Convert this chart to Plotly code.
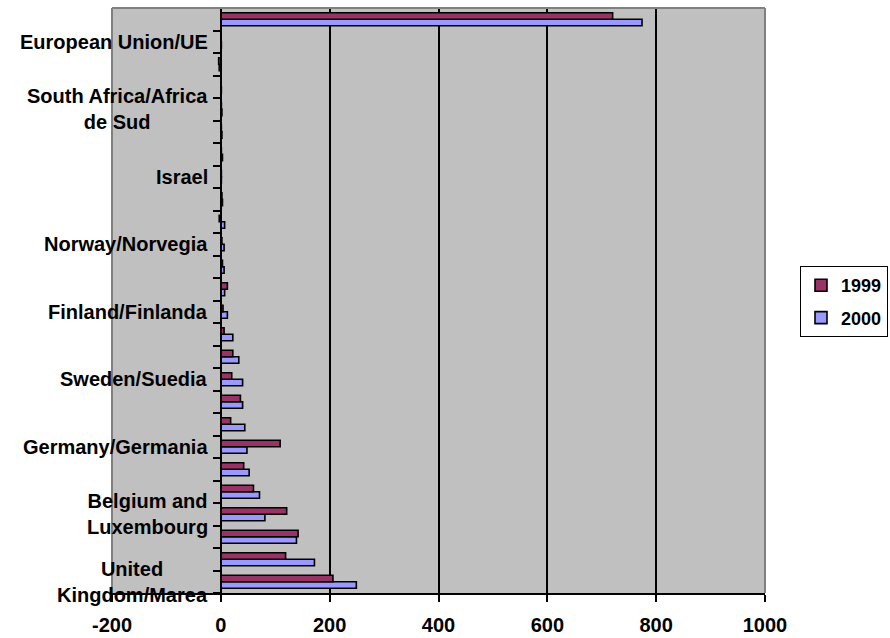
import plotly.graph_objects as go

# Categories from bottom (position 1) to top (position 26); only every third one is labelled
category_labels = [
    "United<br>Kingdom/Marea", "", "",
    "Belgium and<br>Luxembourg", "", "",
    "Germany/Germania", "", "",
    "Sweden/Suedia", "", "",
    "Finland/Finlanda", "", "",
    "Norway/Norvegia", "", "",
    "Israel", "", "",
    "South Africa/Africa<br>de Sud", "", "",
    "European Union/UE", "",
]
values_1999 = [206, 119, 142, 121, 60, 42, 109, 18, 36, 20, 22, 6, 4, 12, 3, 2, -3, 2, 1, 1, 1, 1, 0, -4, 0, 720]
values_2000 = [249, 172, 139, 81, 71, 52, 48, 44, 40, 40, 33, 22, 12, 7, 6, 6, 7, 3, 1, 3, 2, 2, 1, -3, 1, 774]
series_names = ["1999", "2000"]
x_ticks = [-200, 0, 200, 400, 600, 800, 1000]

positions = list(range(1, len(category_labels) + 1))
FONT = "Liberation Sans, Arial, sans-serif"

fig = go.Figure()
# 2000 first so that 1999 sits above it within each category
fig.add_trace(go.Bar(
    y=positions, x=values_2000, orientation="h", name=series_names[1],
    legendgroup="b", legendrank=2,
    marker=dict(color="#9999FF", line=dict(color="black", width=1.6)),
))
fig.add_trace(go.Bar(
    y=positions, x=values_1999, orientation="h", name=series_names[0],
    legendgroup="a", legendrank=1,
    marker=dict(color="#993366", line=dict(color="black", width=1.6)),
))

xmin, xmax = x_ticks[0], x_ticks[-1]
axis_pos = (0 - xmin) / (xmax - xmin)

annotations = []
for p, lab in zip(positions, category_labels):
    if lab:
        annotations.append(dict(
            xref="paper", yref="y", x=axis_pos, y=p, xanchor="right", yanchor="middle",
            xshift=-11, text=lab, showarrow=False, align="center",
            font=dict(family=FONT, size=20, color="black", weight="bold"),
        ))

boundaries = [p - 0.5 for p in positions] + [positions[-1] + 0.5]

fig.update_layout(
    width=890, height=638,
    margin=dict(l=112, r=125, t=8, b=45, autoexpand=False),
    paper_bgcolor="white", plot_bgcolor="#C0C0C0",
    barmode="group", bargap=0.42, bargroupgap=0,
    showlegend=True,
    legend=dict(
        xref="container", yref="container",
        x=800 / 890, y=1 - 266 / 638, xanchor="left", yanchor="top",
        bordercolor="black", borderwidth=1, bgcolor="white",
        traceorder="grouped", tracegroupgap=6,
        font=dict(family=FONT, size=18, color="black", weight="bold"),
    ),
    xaxis=dict(
        range=[xmin, xmax], tickvals=x_ticks, ticktext=[str(v) for v in x_ticks],
        showgrid=True, gridcolor="black", gridwidth=1.5, zeroline=False,
        showline=True, linecolor="black", linewidth=2, automargin=False,
        ticks="outside", ticklen=7, tickwidth=2, tickcolor="black",
        ticklabelstandoff=6,
        tickfont=dict(family=FONT, size=20, color="black", weight="bold"),
    ),
    yaxis=dict(
        range=[0.5, positions[-1] + 0.5], anchor="free", position=axis_pos,
        tickvals=boundaries, ticktext=["" for _ in boundaries],
        showgrid=False, zeroline=False, automargin=False,
        showline=True, linecolor="black", linewidth=2,
        ticks="outside", ticklen=7, tickwidth=2, tickcolor="black",
    ),
    annotations=annotations,
    shapes=[
        dict(type="line", xref="paper", yref="paper", x0=0, x1=0, y0=0, y1=1,
             line=dict(color="#808080", width=2), layer="above"),
        dict(type="line", xref="paper", yref="paper", x0=0, x1=1, y0=1, y1=1,
             line=dict(color="#808080", width=2), layer="above"),
        dict(type="line", xref="paper", yref="paper", x0=1, x1=1, y0=0, y1=1,
             line=dict(color="#808080", width=2), layer="above"),
    ],
)

fig.write_html("out.html")
